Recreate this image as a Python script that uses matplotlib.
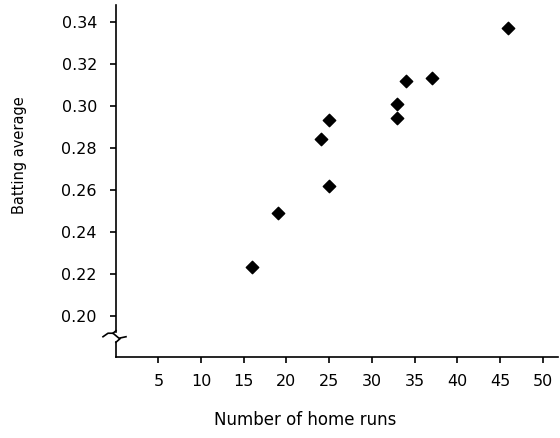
import matplotlib
matplotlib.use("Agg")
import matplotlib.pyplot as plt

# home runs vs batting average
home_runs = [16, 19, 24, 25, 25, 33, 33, 34, 37, 46]
batting_avg = [0.223, 0.249, 0.284, 0.293, 0.262, 0.301, 0.294, 0.312, 0.313, 0.337]

x_ticks = [5, 10, 15, 20, 25, 30, 35, 40, 45, 50]
y_ticks = [0.20, 0.22, 0.24, 0.26, 0.28, 0.30, 0.32, 0.34]
y_ticklabels = ["%.2f" % v for v in y_ticks]

plt.rcParams['font.family'] = ['DejaVu Sans']

fig = plt.figure(figsize=(5.6, 4.38), dpi=100)
ax = fig.add_axes([0.2066, 0.1849, 0.7898, 0.8037])

ax.scatter(home_runs, batting_avg, marker='D', s=40, color='black', zorder=3)

ax.set_xlim(0, 51.8)
ax.set_ylim(0.1803, 0.348)
ax.set_xticks(x_ticks)
ax.set_xticklabels([str(t) for t in x_ticks])
ax.set_yticks(y_ticks)
ax.set_yticklabels(y_ticklabels)

for s in ['top', 'right']:
    ax.spines[s].set_visible(False)
ax.spines['left'].set_bounds(0.1924, 0.348)
for s in ['left', 'bottom']:
    ax.spines[s].set_linewidth(1.2)

ax.tick_params(direction='out', length=4.5, width=1.2, labelsize=11.5, color='black')
ax.tick_params(axis='y', pad=9)
ax.tick_params(axis='x', pad=8)

# axis break symbol
tr = ax.transAxes
def px(xp, yp):
    return ((xp - 115.7) / 442.3, (357.3 - yp) / 352.3)
low = [px(116, 342.5), px(116, 357.3)]
ax.plot([p[0] for p in low], [p[1] for p in low], color='black', lw=1.2,
        transform=tr, clip_on=False)
zz = [px(103, 337), px(108, 333.5), px(113, 333.5), px(119, 338.5), px(126, 337)]
ax.plot([p[0] for p in zz], [p[1] for p in zz], color='black', lw=1.2,
        transform=tr, clip_on=False)
hook = [px(116, 331), px(113, 333.5)]
ax.plot([p[0] for p in hook], [p[1] for p in hook], color='black', lw=1.2,
        transform=tr, clip_on=False)
hook2 = [px(116, 342.5), px(120, 339)]
ax.plot([p[0] for p in hook2], [p[1] for p in hook2], color='black', lw=1.2,
        transform=tr, clip_on=False)

ax.set_xlabel("Number of home runs", fontsize=12)
ax.set_ylabel("Batting average", fontsize=10.5)
ax.xaxis.set_label_coords((305 - 115.7) / 442.3, (357.3 - 420) / 352.3)
ax.yaxis.set_label_coords((20 - 115.7) / 442.3, (357.3 - 155) / 352.3)
ax.xaxis.label.set_va('center')
ax.yaxis.label.set_va('center')

fig.savefig("out.png", dpi=100)
